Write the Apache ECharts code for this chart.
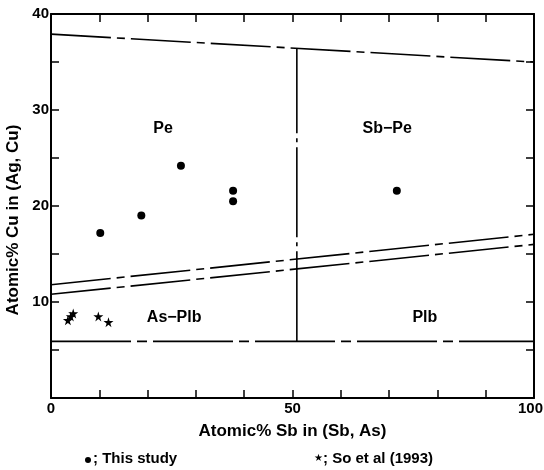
<!DOCTYPE html>
<html>
<head>
<meta charset="utf-8">
<script src="https://cdn.jsdelivr.net/npm/echarts@6/dist/echarts.min.js"></script>
<style>
  html, body { margin: 0; padding: 0; background: #fff; }
  #chart { width: 544px; height: 470px; }
</style>
</head>
<body>
<div id="chart"></div>
<script>
// boundary lines, [Sb%, Cu%]
const topBoundary = [[0, 37.9], [100, 35.0]];
const vertBoundary = [[50.9, 5.9], [50.9, 36.45]];
const upperSlope = [[0, 11.8], [100, 17.05]];
const lowerSlope = [[0, 10.8], [100, 16.0]];
const bottomBoundary = [[0, 5.9], [100, 5.9]];

// measured points
const thisStudy = [[10.2, 17.2], [18.7, 19.0], [26.9, 24.2], [37.7, 21.6], [37.7, 20.5], [71.6, 21.6]];
const soEtAl = [[3.5, 8.1], [4.1, 8.5], [4.6, 8.8], [9.8, 8.5], [11.9, 7.9]];

// field names
const fieldNames = ['Pe', 'Sb\u2212Pe', 'As\u2212Plb', 'Plb'];
const fieldPos = [[23.2, 28.1], [69.6, 28.1], [25.5, 8.4], [77.4, 8.4]];

const xTickLabels = [0, 50, 100];
const yTickLabels = [10, 20, 30, 40];

const font = '"Liberation Sans", Arial, sans-serif';
const star = 'path://M50,0 L61,35 L98,35 L68,57 L79,91 L50,70 L21,91 L32,57 L2,35 L39,35 Z';

const chart = echarts.init(document.getElementById('chart'));

function boundary(data, dash) {
  return {
    type: 'line', data: data, symbol: 'none', silent: true,
    lineStyle: { color: '#000', width: 1.6, type: dash }
  };
}

const baseAxis = {
  axisLine: { onZero: false, lineStyle: { color: '#000', width: 2 } },
  axisTick: { inside: true, length: 8, lineStyle: { color: '#000', width: 1.5 } },
  splitLine: { show: false }
};

const tickFont = { fontFamily: font, fontWeight: 'bold', fontSize: 15, color: '#000' };

chart.setOption({
  animation: false,
  grid: { left: 51, top: 14, right: 10, bottom: 72, containLabel: false, outerBoundsMode: 'none' },
  xAxis: [
    Object.assign({}, baseAxis, {
      type: 'value', min: 0, max: 100, interval: 10,
      name: 'Atomic% Sb in (Sb, As)', nameLocation: 'middle', nameGap: 25,
      nameTextStyle: { fontFamily: font, fontWeight: 'bold', fontSize: 17, color: '#000' },
      axisLabel: Object.assign({}, tickFont, {
        margin: 3,
        formatter: v => v === 100 ? '{m|100}' : (xTickLabels.includes(v) ? String(v) : ''),
        rich: { m: Object.assign({}, tickFont, { padding: [0, 7, 0, 0] }) }
      })
    }),
    Object.assign({}, baseAxis, {
      type: 'value', min: 0, max: 100, interval: 10, position: 'top',
      axisLabel: { show: false }
    })
  ],
  yAxis: [
    Object.assign({}, baseAxis, {
      type: 'value', min: 0, max: 40, interval: 5,
      name: 'Atomic% Cu in (Ag, Cu)', nameLocation: 'middle', nameGap: 8,
      nameTextStyle: { fontFamily: font, fontWeight: 'bold', fontSize: 17, color: '#000', padding: [0, 28, 0, 0] },
      axisLabel: Object.assign({}, tickFont, {
        margin: 2,
        formatter: v => yTickLabels.includes(v) ? String(v) : ''
      })
    }),
    Object.assign({}, baseAxis, {
      type: 'value', min: 0, max: 40, interval: 5, position: 'right',
      axisLabel: { show: false }
    })
  ],
  series: [
    boundary(topBoundary, [60, 6, 8, 6]),
    boundary(vertBoundary, [90, 5, 4, 5]),
    boundary(upperSlope, [60, 6, 8, 6]),
    boundary(lowerSlope, [60, 6, 8, 6]),
    boundary(bottomBoundary, [80, 6, 10, 6]),
    {
      type: 'scatter', data: thisStudy, symbol: 'circle', symbolSize: 8,
      itemStyle: { color: '#000', opacity: 1 }
    },
    {
      type: 'scatter', data: soEtAl, symbol: star, symbolSize: 10,
      itemStyle: { color: '#000', opacity: 1 }
    },
    {
      type: 'scatter', silent: true, symbolSize: 1,
      itemStyle: { color: '#fff', opacity: 1 },
      data: fieldPos.map((p, i) => ({ value: p, name: fieldNames[i] })),
      label: {
        show: true, position: 'inside', formatter: '{b}',
        fontFamily: font, fontWeight: 'bold', fontSize: 16, color: '#000'
      }
    }
  ],
  graphic: [
    { type: 'circle', left: 85, top: 457, shape: { r: 3 }, style: { fill: '#000' } },
    { type: 'text', left: 93, top: 451, style: { text: '; This study', font: 'bold 15px ' + font, fill: '#000' } },
    { type: 'text', left: 314, top: 453, style: { text: '\u2605', font: '10px "DejaVu Sans"', fill: '#000' } },
    { type: 'text', left: 323, top: 451, style: { text: '; So et al (1993)', font: 'bold 15px ' + font, fill: '#000' } }
  ]
});
</script>
</body>
</html>
